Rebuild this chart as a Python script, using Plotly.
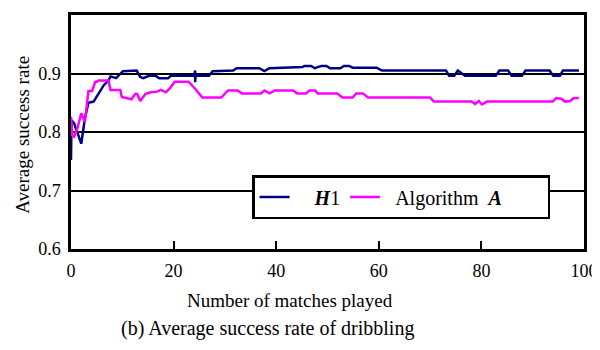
import plotly.graph_objects as go

# H1 series (breakpoints)
h1_x = [0, 0.1, 0.6, 2.0, 2.7, 3.4, 4.4, 5.4, 6.4, 7.3, 7.7, 8.8, 10.1, 12.8, 13.5, 14.1, 15.2, 16.5,
        17.2, 18.9, 19.5, 24.0, 24.2, 24.2, 24.3, 26.9, 27.6, 31.6, 32.3, 36.7, 37.7, 38.7, 45.1, 45.5,
        46.8, 47.5, 48.8, 49.8, 50.5, 52.5, 53.2, 54.2, 54.9, 59.6, 60.6, 73.1, 73.7, 74.7, 75.4, 76.8,
        82.8, 83.5, 85.2, 85.9, 87.9, 88.6, 93.3, 94.0, 95.3, 95.9, 99.0]
h1_y = [0.752, 0.82, 0.815, 0.78, 0.823, 0.85, 0.852, 0.866, 0.88, 0.888, 0.895, 0.892, 0.904, 0.905,
        0.894, 0.892, 0.896, 0.896, 0.892, 0.892, 0.896, 0.896, 0.905, 0.885, 0.896, 0.896, 0.904, 0.905,
        0.909, 0.909, 0.904, 0.909, 0.911, 0.913, 0.913, 0.909, 0.913, 0.913, 0.909, 0.909, 0.913, 0.913,
        0.91, 0.91, 0.905, 0.905, 0.896, 0.896, 0.905, 0.896, 0.896, 0.905, 0.905, 0.896, 0.896, 0.905,
        0.905, 0.896, 0.896, 0.905, 0.905]

# Algorithm A series (breakpoints)
alg_x = [0, 0.2, 0.6, 1.2, 2.0, 2.7, 3.4, 4.1, 4.7, 5.4, 6.7, 7.3, 7.7, 9.6, 9.9, 10.4, 11.8, 12.5,
         12.9, 13.5, 14.5, 15.5, 16.8, 17.5, 18.5, 19.2, 20.2, 22.9, 24.2, 25.6, 29.3, 30.6, 32.5, 33.3,
         37.0, 37.7, 38.7, 39.7, 43.3, 44.1, 45.8, 46.5, 47.6, 48.1, 51.9, 52.9, 54.9, 55.6, 56.9, 57.9,
         70.0, 70.7, 78.1, 78.8, 79.5, 80.1, 81.1, 93.9, 94.6, 95.6, 96.3, 97.3, 98.0, 99.0]
alg_y = [0.826, 0.795, 0.792, 0.805, 0.832, 0.817, 0.87, 0.87, 0.885, 0.888, 0.888, 0.888, 0.872,
         0.872, 0.86, 0.859, 0.856, 0.865, 0.865, 0.853, 0.865, 0.868, 0.869, 0.872, 0.868, 0.874, 0.886,
         0.886, 0.874, 0.859, 0.859, 0.871, 0.871, 0.866, 0.866, 0.871, 0.866, 0.871, 0.871, 0.866, 0.866,
         0.871, 0.871, 0.866, 0.866, 0.859, 0.859, 0.866, 0.866, 0.859, 0.859, 0.852, 0.852, 0.848, 0.853,
         0.847, 0.852, 0.852, 0.858, 0.857, 0.852, 0.853, 0.858, 0.858]

y_ticks = [0.6, 0.7, 0.8, 0.9, 1.0]
y_tick_labels = ["0.6", "0.7", "0.8", "0.9", "1"]
x_ticks = [0, 20, 40, 60, 80, 100]

FONT = "Liberation Serif, Times New Roman, serif"

fig = go.Figure()
fig.add_trace(go.Scatter(x=h1_x, y=h1_y, mode="lines", name="\u2003<b><i>H</i></b>1",
                         line=dict(color="#000080", width=2.5)))
fig.add_trace(go.Scatter(x=alg_x, y=alg_y, mode="lines",
                         name="\u2002Algorithm\u2002<b><i>A</i></b>\u2003\u2003",
                         line=dict(color="#FF00FF", width=2.5)))

# The page has an 8px body margin, so the figure is drawn 8px smaller and offset.
fig.update_layout(
    width=592, height=342,
    margin=dict(l=63, r=16, t=7, b=101, autoexpand=False),
    paper_bgcolor="white", plot_bgcolor="white",
    font=dict(family=FONT, size=18, color="black"),
    showlegend=True,
    legend=dict(orientation="h", x=0.353, y=0.316, xanchor="left", yanchor="top",
                bgcolor="white", bordercolor="black", borderwidth=2.5,
                font=dict(family=FONT, size=20), itemwidth=30),
    xaxis=dict(range=[0, 100], tickvals=x_ticks, ticks="inside", ticklen=8, tickwidth=2,
               tickcolor="black", showline=True, linecolor="black", linewidth=2.5, mirror=True,
               showgrid=False, zeroline=False, ticklabelstandoff=4, automargin=False,
               tickfont=dict(family=FONT, size=18)),
    yaxis=dict(range=[0.6, 1.0], tickvals=y_ticks, ticktext=y_tick_labels, ticks="",
               showline=True, linecolor="black", linewidth=2.5, mirror=True,
               showgrid=True, gridcolor="black", gridwidth=2, zeroline=False, automargin=False,
               ticklabelstandoff=4, tickfont=dict(family=FONT, size=18)),
    annotations=[
        dict(text="Number of matches played", xref="paper", yref="paper",
             x=0.427, y=-0.218, xanchor="center", yanchor="middle", showarrow=False,
             font=dict(family=FONT, size=19)),
        dict(text="Average success rate", xref="paper", yref="paper", textangle=-90,
             x=-0.096, y=0.487, xanchor="center", yanchor="middle", showarrow=False,
             font=dict(family=FONT, size=19)),
        dict(text="(b) Average success rate of dribbling", xref="paper", yref="paper",
             x=0.384, y=-0.338, xanchor="center", yanchor="middle", showarrow=False,
             font=dict(family=FONT, size=20)),
    ],
)

fig.write_html("out.html")
